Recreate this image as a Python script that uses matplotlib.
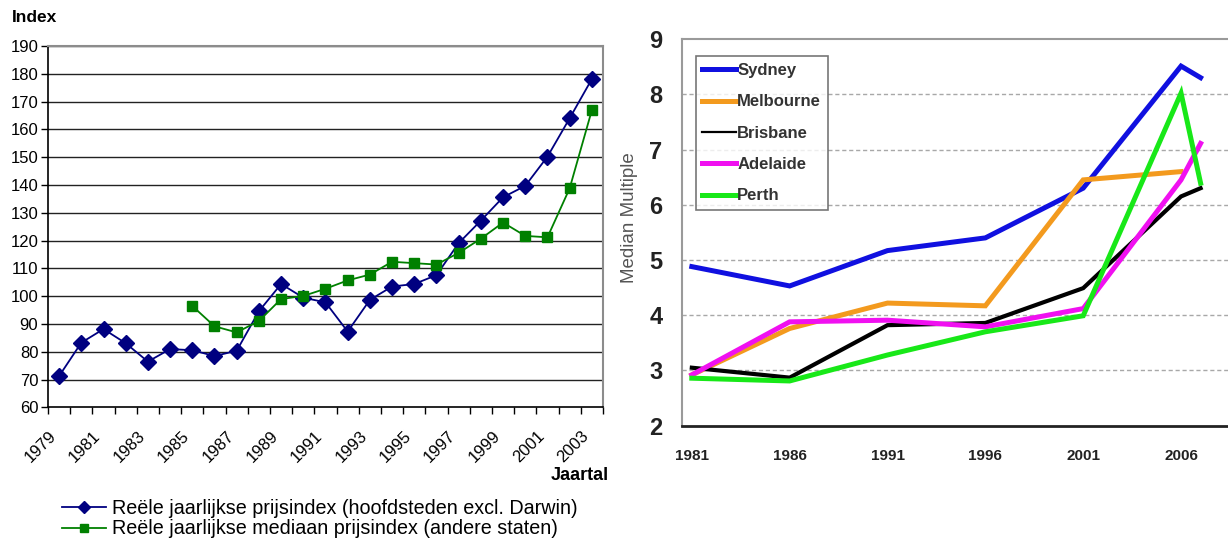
import matplotlib
matplotlib.use("Agg")
import matplotlib.pyplot as plt
import matplotlib.transforms as mtransforms
import numpy as np

plt.rcParams['font.family'] = ['Liberation Sans', 'DejaVu Sans']

# ---- left panel: real annual price index ----
years_left = list(range(1979, 2004))
capital_index = [71.3, 83.3, 88.2, 83.1, 76.5, 81.0, 80.6, 78.5, 80.4, 94.6,
                 104.4, 99.5, 97.8, 87.3, 98.7, 103.5, 104.4, 107.6, 119.1,
                 127.2, 135.6, 139.7, 150.2, 164.0, 178.1]
median_years = list(range(1985, 2004))
median_index = [96.5, 89.2, 87.0, 91.1, 99.0, 100.1, 102.7, 105.7, 107.8,
                112.4, 111.9, 111.4, 115.6, 120.7, 126.5, 121.7, 121.2,
                138.8, 166.9]
left_tick_labels = [str(y) for y in range(1979, 2004, 2)]
capital_label = "Reële jaarlijkse prijsindex (hoofdsteden excl. Darwin)"
median_label = "Reële jaarlijkse mediaan prijsindex (andere staten)"

# ---- right panel: median multiple by city ----
city_names = ["Sydney", "Melbourne", "Brisbane", "Adelaide", "Perth"]
city_colors = ["#1010e0", "#f39a1e", "#000000", "#f010f0", "#18e818"]
city_years = {
    "Sydney":    [1981, 1986, 1991, 1996, 2001, 2006, 2007],
    "Melbourne": [1981, 1986, 1991, 1996, 2001, 2006],
    "Brisbane":  [1981, 1986, 1991, 1996, 2001, 2006, 2007],
    "Adelaide":  [1981, 1986, 1991, 1996, 2001, 2006, 2007],
    "Perth":     [1981, 1986, 1991, 1996, 2001, 2006, 2007],
}
city_values = {
    "Sydney":    [4.88, 4.53, 5.17, 5.40, 6.30, 8.51, 8.30],
    "Melbourne": [2.92, 3.76, 4.22, 4.17, 6.45, 6.60],
    "Brisbane":  [3.05, 2.87, 3.82, 3.86, 4.49, 6.15, 6.30],
    "Adelaide":  [2.92, 3.88, 3.91, 3.79, 4.12, 6.45, 7.11],
    "Perth":     [2.86, 2.81, 3.28, 3.70, 3.99, 8.02, 6.39],
}
city_widths = {"Sydney": 3.6, "Melbourne": 3.6, "Brisbane": 3.0,
               "Adelaide": 3.6, "Perth": 3.6}
right_ticks = [1981, 1986, 1991, 1996, 2001, 2006]

fig = plt.figure(figsize=(12.28, 5.39), dpi=100)

# ================= left chart =================
ax = fig.add_axes([0.0391, 0.244, 0.4519, 0.6707])
xl = np.arange(len(years_left))
xm = np.array([years_left.index(y) for y in median_years])
ax.set_xlim(-0.5, len(years_left) - 0.5)
ax.set_ylim(60, 190)
ax.set_yticks(range(60, 191, 10))
for v in range(70, 191, 10):
    ax.axhline(v, color="#222222", lw=1.0, zorder=1)
l1, = ax.plot(xl, capital_index, color="#000080", lw=1.3, marker="D", ms=8,
              mfc="#000080", mec="#000080", label=capital_label, zorder=3)
l2, = ax.plot(xm, median_index, color="#008000", lw=1.3, marker="s", ms=7,
              mfc="#008000", mec="#008000", label=median_label, zorder=3)

ax.set_xticks(np.arange(0, len(years_left), 2))
ax.set_xticklabels(left_tick_labels, rotation=45, ha="right", va="top",
                   fontsize=12)
shift = mtransforms.ScaledTranslation(-5 / 100, 0, fig.dpi_scale_trans)
for lab in ax.get_xticklabels():
    lab.set_transform(lab.get_transform() + shift)
ax.set_xticks(np.arange(-0.5, len(years_left), 1), minor=True)
ax.tick_params(axis="x", which="major", length=0, pad=15)
ax.tick_params(axis="x", which="minor", length=5, width=1, color="black")
ax.tick_params(axis="y", length=5, width=1, labelsize=12, pad=2)
for s in ["left", "bottom"]:
    ax.spines[s].set_color("black")
    ax.spines[s].set_linewidth(1.2)
for s in ["top", "right"]:
    ax.spines[s].set_color("#8c8c8c")
    ax.spines[s].set_linewidth(1.5)

fig.text(12 / 1228, 1 - 18 / 539, "Index", fontsize=12.5, fontweight="bold",
         ha="left", va="center")
fig.text(609 / 1228, 1 - 476 / 539, "Jaartal", fontsize=13,
         fontweight="bold", ha="right", va="center")

fig.legend(handles=[l1, l2], loc="upper left",
           bbox_to_anchor=(52 / 1228, 1 - 489 / 539), frameon=False,
           fontsize=14.2, handlelength=2.25, handletextpad=0.3,
           labelspacing=0.08, borderpad=0, markerscale=0.75)

# ================= right chart =================
ar = fig.add_axes([0.5554, 0.2102, 0.4446, 0.7174])
ar.set_xlim(1980.5, 2008.4)
ar.set_ylim(2, 9)
ar.set_yticks(range(2, 10))
for v in range(3, 9):
    ar.axhline(v, color="#a8a8a8", lw=1.0, ls=(0, (3, 2)), zorder=1)
for name, col in zip(city_names, city_colors):
    ar.plot(city_years[name], city_values[name], color=col,
            lw=city_widths[name], label=name, zorder=3,
            solid_joinstyle="miter")
ar.set_xticks(right_ticks)
ar.set_xticklabels([str(y) for y in right_ticks], fontsize=11,
                   fontweight="bold", color="#222222")
ar.tick_params(axis="x", length=0, pad=17)
ar.tick_params(axis="y", length=0, pad=14, labelsize=17)
for lab in ar.get_yticklabels():
    lab.set_fontweight("bold")
    lab.set_color("#222222")
ar.set_ylabel("Median Multiple", fontsize=13.5, color="#555555")
ar.yaxis.set_label_coords(-0.080, 0.537)
ar.spines["bottom"].set_color("#222222")
ar.spines["bottom"].set_linewidth(2.0)
for s in ["top", "left"]:
    ar.spines[s].set_color("#9a9a9a")
    ar.spines[s].set_linewidth(1.5)
ar.spines["right"].set_visible(False)

leg = ar.legend(loc="upper left", bbox_to_anchor=(0.025, 0.955),
                fontsize=12, frameon=True, fancybox=False, edgecolor="#555555",
                handlelength=2.0, handletextpad=0.1, labelspacing=0.98,
                borderpad=0.4, borderaxespad=0)
leg.get_frame().set_linewidth(1.2)
for t in leg.get_texts():
    t.set_fontweight("bold")
    t.set_color("#333333")
leg.get_lines()[2].set_linewidth(1.6)

fig.savefig("out.png", dpi=100)
